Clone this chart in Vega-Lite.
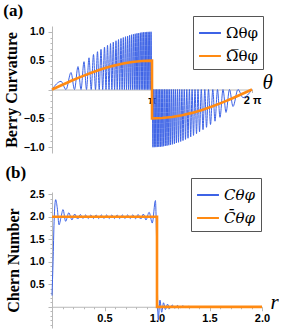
{
  "$schema": "https://vega.github.io/schema/vega-lite/v6.json",
  "padding": {"left": 3, "top": 1, "right": 0, "bottom": 0},
  "config": {
    "view": {"stroke": null},
    "axis": {"grid": false, "domainColor": "#b8b8b8", "tickColor": "#b8b8b8", "labelFont": "Liberation Sans", "labelFontWeight": "bold", "labelFontSize": 10.5, "labelColor": "#000", "titleFont": "Liberation Serif", "titleFontSize": 16, "titleFontWeight": "bold", "titleColor": "#000", "labelOverlap": false},
    "legend": {"orient": "none", "strokeColor": "#555", "fillColor": "#fff", "padding": 5, "labelFont": "DejaVu Serif", "labelFontSize": 15, "labelColor": "#000", "rowPadding": 3, "title": null},
    "title": {"font": "Liberation Serif", "fontSize": 17, "fontWeight": "bold", "anchor": "start", "frame": "bounds", "color": "#000", "offset": -4}
  },
  "spacing": 10,
  "resolve": {"scale": {"color": "independent"}, "legend": {"color": "independent"}},
  "vconcat": [
    {
      "title": {"text": "(a)"},
      "width": 200,
      "height": 127,
      "data": {"values": [
        {"t": 0, "v": 0, "s": "Ωθφ"}, {"t": 0.09, "v": 0.141, "s": "Ωθφ"}, {"t": 0.14, "v": 0, "s": "Ωθφ"}, {"t": 0.19, "v": 0.294, "s": "Ωθφ"}, {"t": 0.225, "v": 0, "s": "Ωθφ"}, {"t": 0.26, "v": 0.397, "s": "Ωθφ"}, {"t": 0.29, "v": 0, "s": "Ωθφ"}, {"t": 0.32, "v": 0.482, "s": "Ωθφ"}, {"t": 0.345, "v": 0, "s": "Ωθφ"}, {"t": 0.37, "v": 0.549, "s": "Ωθφ"}, {"t": 0.392, "v": 0, "s": "Ωθφ"}, {"t": 0.415, "v": 0.607, "s": "Ωθφ"}, {"t": 0.435, "v": 0, "s": "Ωθφ"}, {"t": 0.455, "v": 0.655, "s": "Ωθφ"}, {"t": 0.472, "v": 0, "s": "Ωθφ"}, {"t": 0.49, "v": 0.696, "s": "Ωθφ"}, {"t": 0.507, "v": 0, "s": "Ωθφ"}, {"t": 0.525, "v": 0.734, "s": "Ωθφ"}, {"t": 0.54, "v": 0, "s": "Ωθφ"}, {"t": 0.555, "v": 0.766, "s": "Ωθφ"}, {"t": 0.57, "v": 0, "s": "Ωθφ"}, {"t": 0.585, "v": 0.795, "s": "Ωθφ"}, {"t": 0.599, "v": 0, "s": "Ωθφ"}, {"t": 0.613, "v": 0.821, "s": "Ωθφ"}, {"t": 0.626, "v": 0, "s": "Ωθφ"}, {"t": 0.64, "v": 0.844, "s": "Ωθφ"}, {"t": 0.652, "v": 0, "s": "Ωθφ"}, {"t": 0.665, "v": 0.865, "s": "Ωθφ"}, {"t": 0.677, "v": 0, "s": "Ωθφ"}, {"t": 0.69, "v": 0.884, "s": "Ωθφ"}, {"t": 0.701, "v": 0, "s": "Ωθφ"}, {"t": 0.713, "v": 0.9, "s": "Ωθφ"}, {"t": 0.724, "v": 0, "s": "Ωθφ"}, {"t": 0.735, "v": 0.915, "s": "Ωθφ"}, {"t": 0.745, "v": 0, "s": "Ωθφ"}, {"t": 0.756, "v": 0.927, "s": "Ωθφ"}, {"t": 0.766, "v": 0, "s": "Ωθφ"}, {"t": 0.776, "v": 0.939, "s": "Ωθφ"}, {"t": 0.785, "v": 0, "s": "Ωθφ"}, {"t": 0.795, "v": 0.949, "s": "Ωθφ"}, {"t": 0.804, "v": 0, "s": "Ωθφ"}, {"t": 0.814, "v": 0.958, "s": "Ωθφ"}, {"t": 0.823, "v": 0, "s": "Ωθφ"}, {"t": 0.832, "v": 0.965, "s": "Ωθφ"}, {"t": 0.841, "v": 0, "s": "Ωθφ"}, {"t": 0.85, "v": 0.972, "s": "Ωθφ"}, {"t": 0.858, "v": 0, "s": "Ωθφ"}, {"t": 0.867, "v": 0.978, "s": "Ωθφ"}, {"t": 0.875, "v": 0, "s": "Ωθφ"}, {"t": 0.884, "v": 0.983, "s": "Ωθφ"}, {"t": 0.892, "v": 0, "s": "Ωθφ"}, {"t": 0.9, "v": 0.988, "s": "Ωθφ"}, {"t": 0.908, "v": 0, "s": "Ωθφ"}, {"t": 0.916, "v": 0.991, "s": "Ωθφ"}, {"t": 0.924, "v": 0, "s": "Ωθφ"}, {"t": 0.932, "v": 0.994, "s": "Ωθφ"}, {"t": 0.939, "v": 0, "s": "Ωθφ"}, {"t": 0.947, "v": 0.997, "s": "Ωθφ"}, {"t": 0.954, "v": 0, "s": "Ωθφ"}, {"t": 0.962, "v": 0.998, "s": "Ωθφ"}, {"t": 0.969, "v": 0, "s": "Ωθφ"}, {"t": 0.977, "v": 0.999, "s": "Ωθφ"}, {"t": 0.984, "v": 0, "s": "Ωθφ"}, {"t": 0.991, "v": 1.0, "s": "Ωθφ"}, {"t": 0.998, "v": 0, "s": "Ωθφ"},
        {"t": 1.002, "v": 0, "s": "Ωθφ"}, {"t": 1.009, "v": -1.0, "s": "Ωθφ"}, {"t": 1.016, "v": 0, "s": "Ωθφ"}, {"t": 1.023, "v": -0.999, "s": "Ωθφ"}, {"t": 1.031, "v": 0, "s": "Ωθφ"}, {"t": 1.038, "v": -0.998, "s": "Ωθφ"}, {"t": 1.046, "v": 0, "s": "Ωθφ"}, {"t": 1.053, "v": -0.997, "s": "Ωθφ"}, {"t": 1.061, "v": 0, "s": "Ωθφ"}, {"t": 1.068, "v": -0.994, "s": "Ωθφ"}, {"t": 1.076, "v": 0, "s": "Ωθφ"}, {"t": 1.084, "v": -0.991, "s": "Ωθφ"}, {"t": 1.092, "v": 0, "s": "Ωθφ"}, {"t": 1.1, "v": -0.988, "s": "Ωθφ"}, {"t": 1.108, "v": 0, "s": "Ωθφ"}, {"t": 1.116, "v": -0.983, "s": "Ωθφ"}, {"t": 1.125, "v": 0, "s": "Ωθφ"}, {"t": 1.133, "v": -0.978, "s": "Ωθφ"}, {"t": 1.142, "v": 0, "s": "Ωθφ"}, {"t": 1.15, "v": -0.972, "s": "Ωθφ"}, {"t": 1.159, "v": 0, "s": "Ωθφ"}, {"t": 1.168, "v": -0.965, "s": "Ωθφ"}, {"t": 1.177, "v": 0, "s": "Ωθφ"}, {"t": 1.186, "v": -0.958, "s": "Ωθφ"}, {"t": 1.196, "v": 0, "s": "Ωθφ"}, {"t": 1.205, "v": -0.949, "s": "Ωθφ"}, {"t": 1.215, "v": 0, "s": "Ωθφ"}, {"t": 1.224, "v": -0.939, "s": "Ωθφ"}, {"t": 1.234, "v": 0, "s": "Ωθφ"}, {"t": 1.244, "v": -0.927, "s": "Ωθφ"}, {"t": 1.255, "v": 0, "s": "Ωθφ"}, {"t": 1.265, "v": -0.915, "s": "Ωθφ"}, {"t": 1.276, "v": 0, "s": "Ωθφ"}, {"t": 1.287, "v": -0.9, "s": "Ωθφ"}, {"t": 1.299, "v": 0, "s": "Ωθφ"}, {"t": 1.31, "v": -0.884, "s": "Ωθφ"}, {"t": 1.323, "v": 0, "s": "Ωθφ"}, {"t": 1.335, "v": -0.865, "s": "Ωθφ"}, {"t": 1.348, "v": 0, "s": "Ωθφ"}, {"t": 1.36, "v": -0.844, "s": "Ωθφ"}, {"t": 1.374, "v": 0, "s": "Ωθφ"}, {"t": 1.387, "v": -0.821, "s": "Ωθφ"}, {"t": 1.401, "v": 0, "s": "Ωθφ"}, {"t": 1.415, "v": -0.795, "s": "Ωθφ"}, {"t": 1.43, "v": 0, "s": "Ωθφ"}, {"t": 1.445, "v": -0.766, "s": "Ωθφ"}, {"t": 1.46, "v": 0, "s": "Ωθφ"}, {"t": 1.475, "v": -0.734, "s": "Ωθφ"}, {"t": 1.493, "v": 0, "s": "Ωθφ"}, {"t": 1.51, "v": -0.696, "s": "Ωθφ"}, {"t": 1.528, "v": 0, "s": "Ωθφ"}, {"t": 1.545, "v": -0.655, "s": "Ωθφ"}, {"t": 1.565, "v": 0, "s": "Ωθφ"}, {"t": 1.585, "v": -0.607, "s": "Ωθφ"}, {"t": 1.608, "v": 0, "s": "Ωθφ"}, {"t": 1.63, "v": -0.549, "s": "Ωθφ"}, {"t": 1.655, "v": 0, "s": "Ωθφ"}, {"t": 1.68, "v": -0.482, "s": "Ωθφ"}, {"t": 1.71, "v": 0, "s": "Ωθφ"}, {"t": 1.74, "v": -0.397, "s": "Ωθφ"}, {"t": 1.775, "v": 0, "s": "Ωθφ"}, {"t": 1.81, "v": -0.294, "s": "Ωθφ"}, {"t": 1.86, "v": 0, "s": "Ωθφ"}, {"t": 1.91, "v": -0.141, "s": "Ωθφ"}, {"t": 2.0, "v": 0, "s": "Ωθφ"},
        {"t": 0, "v": 0, "s": "Ω\u0305θφ"}, {"t": 0.1, "v": 0.078, "s": "Ω\u0305θφ"}, {"t": 0.2, "v": 0.156, "s": "Ω\u0305θφ"}, {"t": 0.3, "v": 0.227, "s": "Ω\u0305θφ"}, {"t": 0.4, "v": 0.294, "s": "Ω\u0305θφ"}, {"t": 0.5, "v": 0.354, "s": "Ω\u0305θφ"}, {"t": 0.6, "v": 0.405, "s": "Ω\u0305θφ"}, {"t": 0.7, "v": 0.445, "s": "Ω\u0305θφ"}, {"t": 0.8, "v": 0.476, "s": "Ω\u0305θφ"}, {"t": 0.9, "v": 0.494, "s": "Ω\u0305θφ"}, {"t": 1.0, "v": 0.5, "s": "Ω\u0305θφ"}, {"t": 1.0001, "v": -0.5, "s": "Ω\u0305θφ"}, {"t": 1.1, "v": -0.494, "s": "Ω\u0305θφ"}, {"t": 1.2, "v": -0.476, "s": "Ω\u0305θφ"}, {"t": 1.3, "v": -0.445, "s": "Ω\u0305θφ"}, {"t": 1.4, "v": -0.405, "s": "Ω\u0305θφ"}, {"t": 1.5, "v": -0.354, "s": "Ω\u0305θφ"}, {"t": 1.6, "v": -0.294, "s": "Ω\u0305θφ"}, {"t": 1.7, "v": -0.227, "s": "Ω\u0305θφ"}, {"t": 1.8, "v": -0.156, "s": "Ω\u0305θφ"}, {"t": 1.9, "v": -0.078, "s": "Ω\u0305θφ"}, {"t": 2.0, "v": 0, "s": "Ω\u0305θφ"}
      ]},
      "encoding": {
        "x": {"field": "t", "type": "quantitative", "scale": {"domain": [0, 2], "nice": false},
          "axis": {"values": [1, 2], "labelExpr": "datum.value == 1 ? 'π' : '2 π'", "offset": -63.5, "tickSize": 3, "labelPadding": 2, "labelFlush": false, "labelFontSize": 11,
            "title": "θ", "titleFont": "Liberation Serif", "titleFontStyle": "italic", "titleFontWeight": "normal", "titleFontSize": 21, "titleX": 210, "titleY": -7, "titleAlign": "left", "titleBaseline": "middle"}},
        "y": {"field": "v", "type": "quantitative", "scale": {"domain": [-1.1, 1.1], "nice": false},
          "axis": {"values": [-1, -0.9, -0.8, -0.7, -0.6, -0.5, -0.4, -0.3, -0.2, -0.1, 0, 0.1, 0.2, 0.3, 0.4, 0.5, 0.6, 0.7, 0.8, 0.9, 1],
            "labelExpr": "abs(datum.value*2 - round(datum.value*2)) < 0.001 && datum.value != 0 ? format(datum.value, '.1f') : ''",
            "tickSize": {"condition": {"test": "abs(datum.value*2 - round(datum.value*2)) < 0.001", "value": 4}, "value": 2},
            "labelPadding": 4, "title": "Berry Curvature", "titlePadding": 4}},
        "color": {"field": "s", "type": "nominal", "scale": {"domain": ["Ωθφ", "Ω\u0305θφ"], "range": ["#3d63e6", "#ff8a12"]},
          "legend": {"legendX": 141, "legendY": -10, "symbolType": "stroke", "symbolSize": 480, "symbolStrokeWidth": 2}}
      },
      "layer": [
        {"transform": [{"filter": "datum.s == 'Ωθφ'"}], "mark": {"type": "line", "interpolate": "monotone", "strokeWidth": 1}},
        {"transform": [{"filter": "datum.s != 'Ωθφ'"}], "mark": {"type": "line", "strokeWidth": 2.6}}
      ]
    },
    {
      "title": {"text": "(b)"},
      "width": 210,
      "height": 136,
      "data": {"values": [
        {"r": 0, "c": 0.25, "s": "Cθφ"}, {"r": 0.01, "c": 1.0, "s": "Cθφ"}, {"r": 0.02, "c": 1.9, "s": "Cθφ"}, {"r": 0.035, "c": 2.38, "s": "Cθφ"}, {"r": 0.05, "c": 2.2, "s": "Cθφ"}, {"r": 0.067, "c": 1.82, "s": "Cθφ"}, {"r": 0.085, "c": 1.98, "s": "Cθφ"}, {"r": 0.105, "c": 2.16, "s": "Cθφ"}, {"r": 0.13, "c": 1.9, "s": "Cθφ"}, {"r": 0.16, "c": 2.09, "s": "Cθφ"}, {"r": 0.19, "c": 1.93, "s": "Cθφ"}, {"r": 0.216, "c": 2.06, "s": "Cθφ"}, {"r": 0.245, "c": 1.95, "s": "Cθφ"}, {"r": 0.27, "c": 2.05, "s": "Cθφ"}, {"r": 0.295, "c": 1.96, "s": "Cθφ"}, {"r": 0.32, "c": 2.04, "s": "Cθφ"}, {"r": 0.345, "c": 1.96, "s": "Cθφ"}, {"r": 0.37, "c": 2.04, "s": "Cθφ"}, {"r": 0.395, "c": 1.96, "s": "Cθφ"}, {"r": 0.42, "c": 2.04, "s": "Cθφ"}, {"r": 0.445, "c": 1.96, "s": "Cθφ"}, {"r": 0.47, "c": 2.04, "s": "Cθφ"}, {"r": 0.495, "c": 1.96, "s": "Cθφ"}, {"r": 0.52, "c": 2.04, "s": "Cθφ"}, {"r": 0.545, "c": 1.96, "s": "Cθφ"}, {"r": 0.57, "c": 2.04, "s": "Cθφ"}, {"r": 0.595, "c": 1.96, "s": "Cθφ"}, {"r": 0.62, "c": 2.04, "s": "Cθφ"}, {"r": 0.645, "c": 1.96, "s": "Cθφ"}, {"r": 0.67, "c": 2.04, "s": "Cθφ"}, {"r": 0.695, "c": 1.96, "s": "Cθφ"}, {"r": 0.72, "c": 2.04, "s": "Cθφ"}, {"r": 0.745, "c": 1.96, "s": "Cθφ"}, {"r": 0.77, "c": 2.045, "s": "Cθφ"}, {"r": 0.795, "c": 1.955, "s": "Cθφ"}, {"r": 0.82, "c": 2.05, "s": "Cθφ"}, {"r": 0.845, "c": 1.95, "s": "Cθφ"}, {"r": 0.87, "c": 2.06, "s": "Cθφ"}, {"r": 0.895, "c": 1.93, "s": "Cθφ"}, {"r": 0.925, "c": 2.1, "s": "Cθφ"}, {"r": 0.955, "c": 1.86, "s": "Cθφ"}, {"r": 0.985, "c": 2.36, "s": "Cθφ"}, {"r": 0.995, "c": 1.6, "s": "Cθφ"}, {"r": 1.003, "c": 0.5, "s": "Cθφ"}, {"r": 1.012, "c": -0.3, "s": "Cθφ"}, {"r": 1.028, "c": 0.15, "s": "Cθφ"}, {"r": 1.045, "c": -0.12, "s": "Cθφ"}, {"r": 1.062, "c": 0.09, "s": "Cθφ"}, {"r": 1.08, "c": -0.06, "s": "Cθφ"}, {"r": 1.1, "c": 0.06, "s": "Cθφ"}, {"r": 1.12, "c": -0.04, "s": "Cθφ"}, {"r": 1.145, "c": 0.04, "s": "Cθφ"}, {"r": 1.17, "c": -0.03, "s": "Cθφ"}, {"r": 1.195, "c": 0.03, "s": "Cθφ"}, {"r": 1.22, "c": -0.02, "s": "Cθφ"}, {"r": 1.245, "c": 0.02, "s": "Cθφ"}, {"r": 1.27, "c": -0.015, "s": "Cθφ"}, {"r": 1.3, "c": 0.01, "s": "Cθφ"}, {"r": 1.35, "c": 0, "s": "Cθφ"}, {"r": 2.0, "c": 0, "s": "Cθφ"},
        {"r": 0, "c": 2, "s": "C\u0304θφ"}, {"r": 1.0, "c": 2, "s": "C\u0304θφ"}, {"r": 1.0001, "c": 0, "s": "C\u0304θφ"}, {"r": 2.0, "c": 0, "s": "C\u0304θφ"}
      ]},
      "encoding": {
        "x": {"field": "r", "type": "quantitative", "scale": {"domain": [0, 2], "nice": false},
          "axis": {"values": [0.1, 0.2, 0.3, 0.4, 0.5, 0.6, 0.7, 0.8, 0.9, 1, 1.1, 1.2, 1.3, 1.4, 1.5, 1.6, 1.7, 1.8, 1.9, 2],
            "labelExpr": "abs(datum.value*2 - round(datum.value*2)) < 0.001 ? format(datum.value, '.1f') : ''",
            "tickSize": {"condition": {"test": "abs(datum.value*2 - round(datum.value*2)) < 0.001", "value": 4}, "value": 2},
            "offset": -21.25, "labelPadding": 2, "labelFlush": false, "labelFontSize": 11,
            "title": "r", "titleFont": "Liberation Serif", "titleFontStyle": "italic", "titleFontWeight": "normal", "titleFontSize": 21, "titleX": 218, "titleY": -4, "titleAlign": "left", "titleBaseline": "middle"}},
        "y": {"field": "c", "type": "quantitative", "scale": {"domain": [-0.47, 2.55], "nice": false},
          "axis": {"values": [-0.4, -0.3, -0.2, -0.1, 0, 0.1, 0.2, 0.3, 0.4, 0.5, 0.6, 0.7, 0.8, 0.9, 1, 1.1, 1.2, 1.3, 1.4, 1.5, 1.6, 1.7, 1.8, 1.9, 2, 2.1, 2.2, 2.3, 2.4, 2.5],
            "labelExpr": "abs(datum.value*2 - round(datum.value*2)) < 0.001 && datum.value > 0 ? format(datum.value, '.1f') : ''",
            "tickSize": {"condition": {"test": "abs(datum.value*2 - round(datum.value*2)) < 0.001", "value": 4}, "value": 2},
            "labelPadding": 4, "title": "Chern Number", "titlePadding": 8}},
        "color": {"field": "s", "type": "nominal", "scale": {"domain": ["Cθφ", "C\u0304θφ"], "range": ["#3d63e6", "#ff8a12"]},
          "legend": {"legendX": 139, "legendY": -14, "labelFontStyle": "italic", "symbolType": "stroke", "symbolSize": 480, "symbolStrokeWidth": 2}}
      },
      "layer": [
        {"transform": [{"filter": "datum.s == 'Cθφ'"}], "mark": {"type": "line", "interpolate": "monotone", "strokeWidth": 1}},
        {"transform": [{"filter": "datum.s != 'Cθφ'"}], "mark": {"type": "line", "strokeWidth": 2.6}}
      ]
    }
  ]
}
